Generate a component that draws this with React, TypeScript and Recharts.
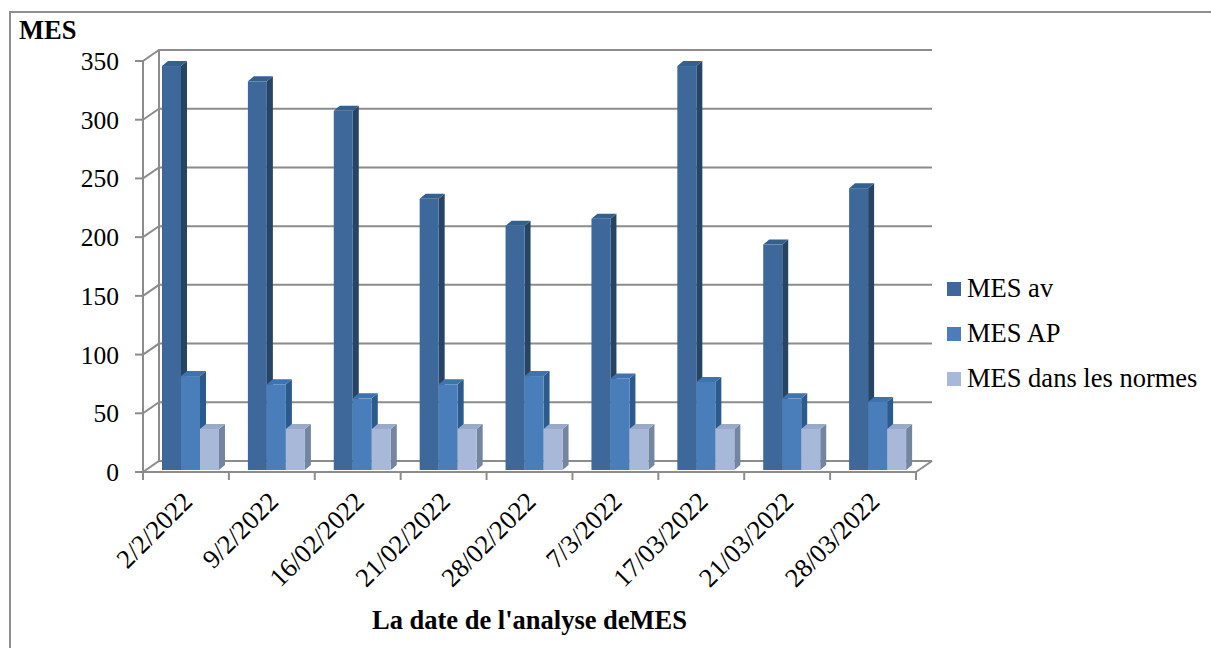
import {
  Bar,
  BarChart,
  CartesianGrid,
  Label,
  Legend,
  XAxis,
  YAxis,
} from 'recharts';

const dates = [
  '2/2/2022',
  '9/2/2022',
  '16/02/2022',
  '21/02/2022',
  '28/02/2022',
  '7/3/2022',
  '17/03/2022',
  '21/03/2022',
  '28/03/2022',
];
const mesAv = [344, 331, 306, 231, 208, 214, 344, 192, 240];
const mesAp = [80, 73, 61, 73, 80, 78, 75, 61, 58];
const mesNormes = [35, 35, 35, 35, 35, 35, 35, 35, 35];
const yTicks = [0, 50, 100, 150, 200, 250, 300, 350];

const data = dates.map((date, i) => ({
  date,
  av: mesAv[i],
  ap: mesAp[i],
  normes: mesNormes[i],
}));

const WIDTH = 1211;
const HEIGHT = 648;
const PLOT_LEFT = 143;
const PLOT_RIGHT = 916;
const LEGEND_WIDTH = 264;
const BAND = (PLOT_RIGHT - PLOT_LEFT) / dates.length;
const AXIS_GRAY = '#8c8c8c';
const FONT = '"Liberation Serif", serif';

// depth of the fake 3D box behind the plot and of each column
const WALL_DX = 16;
const WALL_DY = 11;
const BAR_DX = 6;
const BAR_DY = 5;

function columnShape(side: string, cap: string) {
  return function Column(props: any) {
    const { x, y, width, height, fill } = props;
    const left = x + 5;
    const right = left + width;
    const top = y - 2;
    const bottom = top + height;
    return (
      <g>
        <polygon
          points={`${right},${top} ${right + BAR_DX},${top - BAR_DY} ${right + BAR_DX},${bottom - BAR_DY} ${right},${bottom}`}
          fill={side}
        />
        <polygon
          points={`${left},${top} ${left + BAR_DX},${top - BAR_DY} ${right + BAR_DX},${top - BAR_DY} ${right},${top}`}
          fill={cap}
        />
        <rect x={left} y={top} width={width} height={height} fill={fill} />
      </g>
    );
  };
}

// each grid line runs along the back wall and folds forward to the value axis
function WallLine(props: any) {
  const { x1, x2, y1 } = props;
  const backY = y1 - WALL_DY;
  const isFloor = Math.abs(y1 - 472) < 1;
  return (
    <g fill="none" stroke={AXIS_GRAY} strokeWidth={2}>
      <polyline points={`${x1},${y1} ${x1 + WALL_DX},${backY} ${x2 + WALL_DX},${backY}`} />
      {isFloor && (
        <>
          <line x1={x2} y1={y1} x2={x2 + WALL_DX} y2={backY} />
          <line x1={x1 + WALL_DX} y1={backY} x2={x1 + WALL_DX} y2={61 - WALL_DY} />
        </>
      )}
    </g>
  );
}

function DateTick(props: any) {
  const { x, y, index, payload } = props;
  const boundary = x - BAND / 2;
  const labelX = x + 8;
  const labelY = y + 23;
  return (
    <g>
      <line x1={boundary} y1={y - 8} x2={boundary} y2={y} stroke={AXIS_GRAY} strokeWidth={2} />
      {index === dates.length - 1 && (
        <line x1={boundary + BAND} y1={y - 8} x2={boundary + BAND} y2={y} stroke={AXIS_GRAY} strokeWidth={2} />
      )}
      <text
        x={labelX}
        y={labelY}
        textAnchor="end"
        fontSize={26.5}
        fontFamily={FONT}
        fill="#000"
        transform={`rotate(-45 ${labelX} ${labelY})`}
      >
        {payload.value}
      </text>
    </g>
  );
}

function LegendList({ payload }: any) {
  return (
    <div style={{ fontFamily: FONT, fontSize: 26.5, color: '#000' }}>
      {payload.map((item: any) => (
        <div key={item.value} style={{ display: 'flex', alignItems: 'center', height: 45, whiteSpace: 'nowrap' }}>
          <span style={{ width: 14, height: 14, background: item.color, marginRight: 6 }} />
          {item.value}
        </div>
      ))}
    </div>
  );
}

export default function App() {
  return (
    <div
      style={{
        position: 'absolute',
        left: 0,
        top: 0,
        width: WIDTH,
        height: HEIGHT,
        overflow: 'hidden',
        background: '#fff',
      }}
    >
      <div
        style={{
          position: 'absolute',
          left: 9,
          top: 11,
          width: WIDTH,
          height: HEIGHT,
          border: '2px solid #8f8f8f',
        }}
      />
      <div style={{ position: 'absolute', left: 0, top: 0 }}>
        <BarChart
          width={WIDTH}
          height={HEIGHT}
          data={data}
          margin={{ top: 61, right: WIDTH - PLOT_RIGHT - LEGEND_WIDTH, bottom: 0, left: 0 }}
          barCategoryGap={14}
          barGap={0}
        >
          <CartesianGrid vertical={false} horizontal={(p: any) => <WallLine key={p.key} {...p} />} />
          <XAxis
            dataKey="date"
            height={HEIGHT - 472}
            interval={0}
            tick={DateTick}
            tickLine={false}
            axisLine={{ stroke: AXIS_GRAY, strokeWidth: 2 }}
          >
            <Label
              value="La date de l'analyse deMES"
              position="insideBottom"
              offset={19}
              fontFamily={FONT}
              fontSize={26.5}
              fontWeight="bold"
              fill="#000"
            />
          </XAxis>
          <YAxis
            width={PLOT_LEFT}
            domain={[0, 350]}
            ticks={yTicks}
            interval={0}
            tickSize={8}
            tickMargin={16}
            tick={{ fontSize: 25.5, fontFamily: FONT, fill: '#000' }}
            tickLine={{ stroke: AXIS_GRAY, strokeWidth: 2 }}
            axisLine={{ stroke: AXIS_GRAY, strokeWidth: 2 }}
          />
          <Bar
            dataKey="av"
            name="MES av"
            fill="#3d6899"
            shape={columnShape('#264565', '#34608f')}
            isAnimationActive={false}
          />
          <Bar
            dataKey="ap"
            name="MES AP"
            fill="#4a7ebb"
            shape={columnShape('#2b5a8d', '#3f73ad')}
            isAnimationActive={false}
          />
          <Bar
            dataKey="normes"
            name="MES dans les normes"
            fill="#a7b8d8"
            shape={columnShape('#74859f', '#98a9c9')}
            isAnimationActive={false}
          />
          <Legend
            layout="vertical"
            align="right"
            verticalAlign="middle"
            itemSorter={null}
            content={LegendList}
            wrapperStyle={{ left: 947, top: 266, width: LEGEND_WIDTH, right: 'auto', bottom: 'auto' }}
          />
        </BarChart>
      </div>
      <div
        style={{
          position: 'absolute',
          left: 19,
          top: 15,
          fontFamily: FONT,
          fontSize: 26.5,
          fontWeight: 'bold',
          color: '#000',
        }}
      >
        MES
      </div>
    </div>
  );
}
